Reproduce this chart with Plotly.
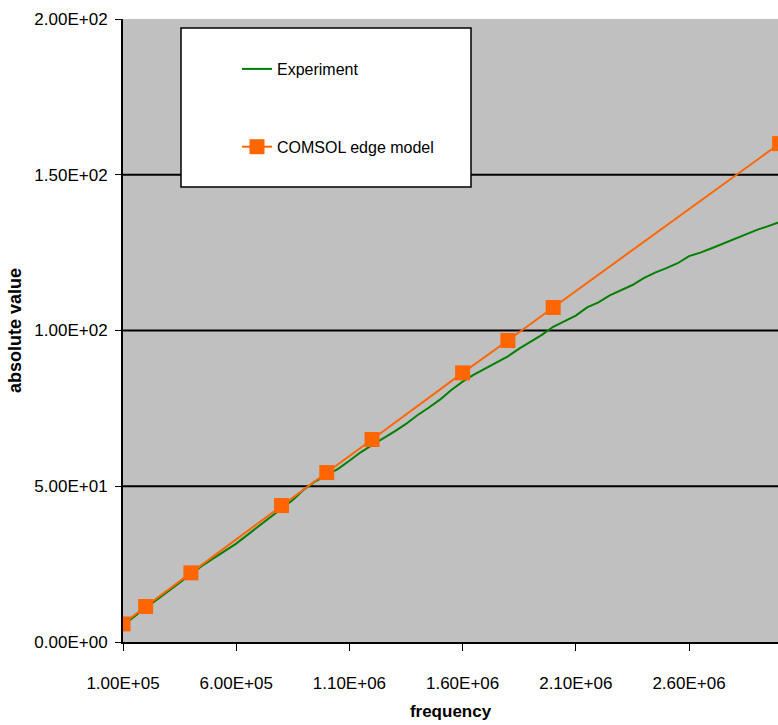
import plotly.graph_objects as go

# Experiment data (frequency in Hz, absolute value)
exp_freq = [1.0e5, 1.5e5, 2.0e5, 2.5e5, 3.0e5, 3.5e5, 4.0e5, 4.5e5, 5.0e5, 5.5e5,
            6.0e5, 6.5e5, 7.0e5, 7.5e5, 8.0e5, 8.5e5, 9.0e5, 9.5e5, 1.0e6, 1.05e6,
            1.1e6, 1.15e6, 1.2e6, 1.25e6, 1.3e6, 1.35e6, 1.4e6, 1.45e6, 1.5e6, 1.55e6,
            1.6e6, 1.65e6, 1.7e6, 1.75e6, 1.8e6, 1.85e6, 1.9e6, 1.95e6, 2.0e6, 2.05e6,
            2.1e6, 2.15e6, 2.2e6, 2.25e6, 2.3e6, 2.35e6, 2.4e6, 2.45e6, 2.5e6, 2.55e6,
            2.6e6, 2.65e6, 2.7e6, 2.75e6, 2.8e6, 2.85e6, 2.9e6, 2.95e6, 3.0e6]
exp_abs = [5.3, 8.3, 11.0, 13.6, 16.4, 19.3, 21.8, 24.5, 26.8, 29.3,
           31.6, 34.4, 37.2, 40.1, 42.6, 45.6, 49.0, 51.6, 53.6, 55.6,
           58.2, 60.9, 63.2, 65.3, 67.6, 70.0, 72.8, 75.2, 77.8, 80.9,
           83.6, 85.8, 87.8, 89.8, 91.7, 94.2, 96.4, 98.6, 101.2, 103.0,
           104.8, 107.4, 109.0, 111.3, 113.0, 114.6, 116.8, 118.6, 120.0, 121.6,
           123.9, 125.0, 126.4, 127.9, 129.4, 130.9, 132.3, 133.5, 134.8]

# COMSOL edge model
model_freq = [1.0e5, 2.0e5, 4.0e5, 8.0e5, 1.0e6, 1.2e6, 1.6e6, 1.8e6, 2.0e6, 3.0e6]
model_abs = [5.8, 11.4, 22.2, 43.8, 54.4, 65.0, 86.4, 96.8, 107.4, 160.0]

series_names = ["Experiment", "COMSOL edge model"]

x_tickvals = [1.0e5, 6.0e5, 1.1e6, 1.6e6, 2.1e6, 2.6e6]
x_ticktext = ["1.00E+05", "6.00E+05", "1.10E+06", "1.60E+06", "2.10E+06", "2.60E+06"]
y_tickvals = [0, 50, 100, 150, 200]
y_ticktext = ["0.00E+00", "5.00E+01", "1.00E+02", "1.50E+02", "2.00E+02"]
grid_vals = [50, 100, 150]

FONT = "Liberation Sans, Arial, sans-serif"

fig = go.Figure()
fig.add_trace(go.Scatter(
    x=exp_freq, y=exp_abs, name=series_names[0], mode="lines",
    line=dict(color="#008000", width=2), legendgroup="a"))
fig.add_trace(go.Scatter(
    x=model_freq, y=model_abs, name=series_names[1], mode="lines+markers",
    line=dict(color="#FF6600", width=2),
    marker=dict(symbol="square", size=15, color="#FF6600"), legendgroup="b"))

shapes = []
for g in grid_vals:
    shapes.append(dict(type="line", xref="paper", yref="y", x0=0, x1=1, y0=g, y1=g,
                       line=dict(color="black", width=2), layer="below"))
# legend box
shapes.append(dict(type="rect", xref="paper", yref="paper",
                   x0=58 / 655, x1=348 / 655, y0=(642 - 187) / 623, y1=(642 - 28) / 623,
                   fillcolor="white", line=dict(color="black", width=1.5), layer="above"))

fig.update_layout(
    width=778, height=725,
    margin=dict(l=123, r=0, t=19, b=83),
    paper_bgcolor="white", plot_bgcolor="#C0C0C0",
    font=dict(family=FONT, size=17, color="black"),
    shapes=shapes,
    showlegend=True,
    legend=dict(x=(237 - 123) / 655, y=(642 - 52) / 623, xanchor="left", yanchor="top",
                bgcolor="rgba(0,0,0,0)", borderwidth=0,
                font=dict(family=FONT, size=16, color="black"),
                tracegroupgap=54),
)
fig.update_xaxes(
    range=[1.0e5, 2.993e6], tickvals=x_tickvals, ticktext=x_ticktext,
    showgrid=False, zeroline=False, showline=True, linecolor="black", linewidth=2,
    ticks="outside", ticklen=7, tickcolor="black", tickwidth=1, ticklabelstandoff=18,
    title=dict(text="<b>frequency</b>", font=dict(size=17), standoff=13),
)
fig.update_yaxes(
    range=[0, 200], tickvals=y_tickvals, ticktext=y_ticktext,
    showgrid=False, zeroline=False, showline=True, linecolor="black", linewidth=2,
    ticks="outside", ticklen=6, tickcolor="black", tickwidth=1, ticklabelstandoff=4,
    title=dict(text="<b>absolute value</b>", font=dict(size=18), standoff=8),
)

fig.write_html("out.html")
